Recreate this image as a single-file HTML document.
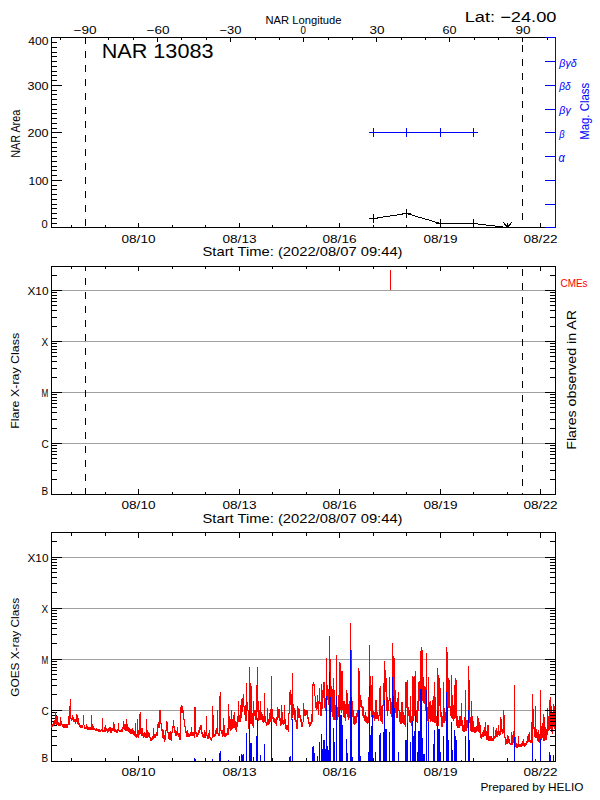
<!DOCTYPE html>
<html><head><meta charset="utf-8"><style>
html,body{margin:0;padding:0;background:#fff;width:600px;height:800px;overflow:hidden}
svg{display:block}
text{font-family:"Liberation Sans",sans-serif}
</style></head><body>
<svg width="600" height="800" viewBox="0 0 600 800">
<rect width="600" height="800" fill="#fff"/>
<g shape-rendering="crispEdges">
<rect x="51" y="37" width="494" height="1" fill="#000"/>
<rect x="51" y="227" width="494" height="1" fill="#000"/>
<rect x="51" y="37" width="1" height="191" fill="#000"/>
<rect x="545" y="37" width="11" height="1" fill="#00f"/>
<rect x="545" y="227" width="11" height="1" fill="#00f"/>
<rect x="555" y="37" width="1" height="191" fill="#00f"/>
<rect x="51" y="227" width="11" height="1" fill="#000"/>
<rect x="51" y="223" width="6" height="1" fill="#000"/>
<rect x="51" y="218" width="6" height="1" fill="#000"/>
<rect x="51" y="213" width="6" height="1" fill="#000"/>
<rect x="51" y="208" width="6" height="1" fill="#000"/>
<rect x="51" y="204" width="6" height="1" fill="#000"/>
<rect x="51" y="199" width="6" height="1" fill="#000"/>
<rect x="51" y="194" width="6" height="1" fill="#000"/>
<rect x="51" y="189" width="6" height="1" fill="#000"/>
<rect x="51" y="185" width="6" height="1" fill="#000"/>
<rect x="51" y="180" width="11" height="1" fill="#000"/>
<rect x="51" y="175" width="6" height="1" fill="#000"/>
<rect x="51" y="170" width="6" height="1" fill="#000"/>
<rect x="51" y="166" width="6" height="1" fill="#000"/>
<rect x="51" y="161" width="6" height="1" fill="#000"/>
<rect x="51" y="156" width="6" height="1" fill="#000"/>
<rect x="51" y="151" width="6" height="1" fill="#000"/>
<rect x="51" y="147" width="6" height="1" fill="#000"/>
<rect x="51" y="142" width="6" height="1" fill="#000"/>
<rect x="51" y="137" width="6" height="1" fill="#000"/>
<rect x="51" y="132" width="11" height="1" fill="#000"/>
<rect x="51" y="128" width="6" height="1" fill="#000"/>
<rect x="51" y="123" width="6" height="1" fill="#000"/>
<rect x="51" y="118" width="6" height="1" fill="#000"/>
<rect x="51" y="113" width="6" height="1" fill="#000"/>
<rect x="51" y="109" width="6" height="1" fill="#000"/>
<rect x="51" y="104" width="6" height="1" fill="#000"/>
<rect x="51" y="99" width="6" height="1" fill="#000"/>
<rect x="51" y="94" width="6" height="1" fill="#000"/>
<rect x="51" y="90" width="6" height="1" fill="#000"/>
<rect x="51" y="85" width="11" height="1" fill="#000"/>
<rect x="51" y="80" width="6" height="1" fill="#000"/>
<rect x="51" y="75" width="6" height="1" fill="#000"/>
<rect x="51" y="71" width="6" height="1" fill="#000"/>
<rect x="51" y="66" width="6" height="1" fill="#000"/>
<rect x="51" y="61" width="6" height="1" fill="#000"/>
<rect x="51" y="56" width="6" height="1" fill="#000"/>
<rect x="51" y="52" width="6" height="1" fill="#000"/>
<rect x="51" y="47" width="6" height="1" fill="#000"/>
<rect x="51" y="42" width="6" height="1" fill="#000"/>
<rect x="51" y="37" width="11" height="1" fill="#000"/>
<rect x="545" y="61" width="11" height="1" fill="#00f"/>
<rect x="545" y="85" width="11" height="1" fill="#00f"/>
<rect x="545" y="109" width="11" height="1" fill="#00f"/>
<rect x="545" y="132" width="11" height="1" fill="#00f"/>
<rect x="545" y="156" width="11" height="1" fill="#00f"/>
<rect x="545" y="180" width="11" height="1" fill="#00f"/>
<rect x="545" y="204" width="11" height="1" fill="#00f"/>
<rect x="71" y="225" width="1" height="2" fill="#000"/>
<rect x="105" y="225" width="1" height="2" fill="#000"/>
<rect x="138" y="223" width="1" height="4" fill="#000"/>
<rect x="172" y="225" width="1" height="2" fill="#000"/>
<rect x="205" y="225" width="1" height="2" fill="#000"/>
<rect x="239" y="223" width="1" height="4" fill="#000"/>
<rect x="272" y="225" width="1" height="2" fill="#000"/>
<rect x="306" y="225" width="1" height="2" fill="#000"/>
<rect x="339" y="223" width="1" height="4" fill="#000"/>
<rect x="373" y="225" width="1" height="2" fill="#000"/>
<rect x="406" y="225" width="1" height="2" fill="#000"/>
<rect x="440" y="223" width="1" height="4" fill="#000"/>
<rect x="473" y="225" width="1" height="2" fill="#000"/>
<rect x="507" y="225" width="1" height="2" fill="#000"/>
<rect x="540" y="223" width="1" height="4" fill="#000"/>
<rect x="60" y="38" width="1" height="2" fill="#000"/>
<rect x="85" y="38" width="1" height="4" fill="#000"/>
<rect x="108" y="38" width="1" height="2" fill="#000"/>
<rect x="133" y="38" width="1" height="2" fill="#000"/>
<rect x="157" y="38" width="1" height="4" fill="#000"/>
<rect x="181" y="38" width="1" height="2" fill="#000"/>
<rect x="206" y="38" width="1" height="2" fill="#000"/>
<rect x="230" y="38" width="1" height="4" fill="#000"/>
<rect x="255" y="38" width="1" height="2" fill="#000"/>
<rect x="279" y="38" width="1" height="2" fill="#000"/>
<rect x="303" y="38" width="1" height="4" fill="#000"/>
<rect x="328" y="38" width="1" height="2" fill="#000"/>
<rect x="352" y="38" width="1" height="2" fill="#000"/>
<rect x="376" y="38" width="1" height="4" fill="#000"/>
<rect x="401" y="38" width="1" height="2" fill="#000"/>
<rect x="425" y="38" width="1" height="2" fill="#000"/>
<rect x="449" y="38" width="1" height="4" fill="#000"/>
<rect x="474" y="38" width="1" height="2" fill="#000"/>
<rect x="498" y="38" width="1" height="2" fill="#000"/>
<rect x="522" y="38" width="1" height="4" fill="#000"/>
<rect x="547" y="38" width="1" height="2" fill="#000"/>
<rect x="85" y="37" width="1" height="7" fill="#000"/>
<rect x="85" y="51" width="1" height="7" fill="#000"/>
<rect x="85" y="65" width="1" height="7" fill="#000"/>
<rect x="85" y="79" width="1" height="7" fill="#000"/>
<rect x="85" y="93" width="1" height="7" fill="#000"/>
<rect x="85" y="107" width="1" height="7" fill="#000"/>
<rect x="85" y="121" width="1" height="7" fill="#000"/>
<rect x="85" y="135" width="1" height="7" fill="#000"/>
<rect x="85" y="149" width="1" height="7" fill="#000"/>
<rect x="85" y="163" width="1" height="7" fill="#000"/>
<rect x="85" y="177" width="1" height="7" fill="#000"/>
<rect x="85" y="191" width="1" height="7" fill="#000"/>
<rect x="85" y="205" width="1" height="7" fill="#000"/>
<rect x="85" y="219" width="1" height="7" fill="#000"/>
<rect x="522" y="37" width="1" height="1" fill="#000"/>
<rect x="522" y="45" width="1" height="7" fill="#000"/>
<rect x="522" y="59" width="1" height="7" fill="#000"/>
<rect x="522" y="73" width="1" height="7" fill="#000"/>
<rect x="522" y="87" width="1" height="7" fill="#000"/>
<rect x="522" y="101" width="1" height="7" fill="#000"/>
<rect x="522" y="115" width="1" height="7" fill="#000"/>
<rect x="522" y="129" width="1" height="7" fill="#000"/>
<rect x="522" y="143" width="1" height="7" fill="#000"/>
<rect x="522" y="157" width="1" height="7" fill="#000"/>
<rect x="522" y="171" width="1" height="7" fill="#000"/>
<rect x="522" y="185" width="1" height="7" fill="#000"/>
<rect x="522" y="199" width="1" height="7" fill="#000"/>
<rect x="522" y="213" width="1" height="7" fill="#000"/>
<rect x="522" y="227" width="1" height="1" fill="#000"/>
<rect x="51" y="266" width="505" height="1" fill="#000"/>
<rect x="51" y="494" width="505" height="1" fill="#000"/>
<rect x="51" y="266" width="1" height="229" fill="#000"/>
<rect x="555" y="266" width="1" height="229" fill="#000"/>
<rect x="51" y="494" width="11" height="1" fill="#000"/>
<rect x="545" y="494" width="11" height="1" fill="#000"/>
<rect x="51" y="479" width="6" height="1" fill="#000"/>
<rect x="550" y="479" width="6" height="1" fill="#000"/>
<rect x="51" y="470" width="6" height="1" fill="#000"/>
<rect x="550" y="470" width="6" height="1" fill="#000"/>
<rect x="51" y="463" width="6" height="1" fill="#000"/>
<rect x="550" y="463" width="6" height="1" fill="#000"/>
<rect x="51" y="458" width="6" height="1" fill="#000"/>
<rect x="550" y="458" width="6" height="1" fill="#000"/>
<rect x="51" y="454" width="6" height="1" fill="#000"/>
<rect x="550" y="454" width="6" height="1" fill="#000"/>
<rect x="51" y="451" width="6" height="1" fill="#000"/>
<rect x="550" y="451" width="6" height="1" fill="#000"/>
<rect x="51" y="448" width="6" height="1" fill="#000"/>
<rect x="550" y="448" width="6" height="1" fill="#000"/>
<rect x="51" y="445" width="6" height="1" fill="#000"/>
<rect x="550" y="445" width="6" height="1" fill="#000"/>
<rect x="51" y="443" width="11" height="1" fill="#000"/>
<rect x="62" y="443" width="483" height="1" fill="#a0a0a0"/>
<rect x="545" y="443" width="11" height="1" fill="#000"/>
<rect x="51" y="428" width="6" height="1" fill="#000"/>
<rect x="550" y="428" width="6" height="1" fill="#000"/>
<rect x="51" y="419" width="6" height="1" fill="#000"/>
<rect x="550" y="419" width="6" height="1" fill="#000"/>
<rect x="51" y="412" width="6" height="1" fill="#000"/>
<rect x="550" y="412" width="6" height="1" fill="#000"/>
<rect x="51" y="407" width="6" height="1" fill="#000"/>
<rect x="550" y="407" width="6" height="1" fill="#000"/>
<rect x="51" y="403" width="6" height="1" fill="#000"/>
<rect x="550" y="403" width="6" height="1" fill="#000"/>
<rect x="51" y="400" width="6" height="1" fill="#000"/>
<rect x="550" y="400" width="6" height="1" fill="#000"/>
<rect x="51" y="397" width="6" height="1" fill="#000"/>
<rect x="550" y="397" width="6" height="1" fill="#000"/>
<rect x="51" y="394" width="6" height="1" fill="#000"/>
<rect x="550" y="394" width="6" height="1" fill="#000"/>
<rect x="51" y="392" width="11" height="1" fill="#000"/>
<rect x="62" y="392" width="483" height="1" fill="#a0a0a0"/>
<rect x="545" y="392" width="11" height="1" fill="#000"/>
<rect x="51" y="377" width="6" height="1" fill="#000"/>
<rect x="550" y="377" width="6" height="1" fill="#000"/>
<rect x="51" y="368" width="6" height="1" fill="#000"/>
<rect x="550" y="368" width="6" height="1" fill="#000"/>
<rect x="51" y="361" width="6" height="1" fill="#000"/>
<rect x="550" y="361" width="6" height="1" fill="#000"/>
<rect x="51" y="356" width="6" height="1" fill="#000"/>
<rect x="550" y="356" width="6" height="1" fill="#000"/>
<rect x="51" y="352" width="6" height="1" fill="#000"/>
<rect x="550" y="352" width="6" height="1" fill="#000"/>
<rect x="51" y="349" width="6" height="1" fill="#000"/>
<rect x="550" y="349" width="6" height="1" fill="#000"/>
<rect x="51" y="346" width="6" height="1" fill="#000"/>
<rect x="550" y="346" width="6" height="1" fill="#000"/>
<rect x="51" y="343" width="6" height="1" fill="#000"/>
<rect x="550" y="343" width="6" height="1" fill="#000"/>
<rect x="51" y="341" width="11" height="1" fill="#000"/>
<rect x="62" y="341" width="483" height="1" fill="#a0a0a0"/>
<rect x="545" y="341" width="11" height="1" fill="#000"/>
<rect x="51" y="326" width="6" height="1" fill="#000"/>
<rect x="550" y="326" width="6" height="1" fill="#000"/>
<rect x="51" y="317" width="6" height="1" fill="#000"/>
<rect x="550" y="317" width="6" height="1" fill="#000"/>
<rect x="51" y="310" width="6" height="1" fill="#000"/>
<rect x="550" y="310" width="6" height="1" fill="#000"/>
<rect x="51" y="305" width="6" height="1" fill="#000"/>
<rect x="550" y="305" width="6" height="1" fill="#000"/>
<rect x="51" y="301" width="6" height="1" fill="#000"/>
<rect x="550" y="301" width="6" height="1" fill="#000"/>
<rect x="51" y="298" width="6" height="1" fill="#000"/>
<rect x="550" y="298" width="6" height="1" fill="#000"/>
<rect x="51" y="295" width="6" height="1" fill="#000"/>
<rect x="550" y="295" width="6" height="1" fill="#000"/>
<rect x="51" y="292" width="6" height="1" fill="#000"/>
<rect x="550" y="292" width="6" height="1" fill="#000"/>
<rect x="51" y="290" width="11" height="1" fill="#000"/>
<rect x="62" y="290" width="483" height="1" fill="#a0a0a0"/>
<rect x="545" y="290" width="11" height="1" fill="#000"/>
<rect x="51" y="275" width="6" height="1" fill="#000"/>
<rect x="550" y="275" width="6" height="1" fill="#000"/>
<rect x="51" y="266" width="6" height="1" fill="#000"/>
<rect x="550" y="266" width="6" height="1" fill="#000"/>
<rect x="71" y="492" width="1" height="2" fill="#000"/>
<rect x="71" y="267" width="1" height="2" fill="#000"/>
<rect x="105" y="492" width="1" height="2" fill="#000"/>
<rect x="105" y="267" width="1" height="2" fill="#000"/>
<rect x="138" y="489" width="1" height="5" fill="#000"/>
<rect x="138" y="267" width="1" height="4" fill="#000"/>
<rect x="172" y="492" width="1" height="2" fill="#000"/>
<rect x="172" y="267" width="1" height="2" fill="#000"/>
<rect x="205" y="492" width="1" height="2" fill="#000"/>
<rect x="205" y="267" width="1" height="2" fill="#000"/>
<rect x="239" y="489" width="1" height="5" fill="#000"/>
<rect x="239" y="267" width="1" height="4" fill="#000"/>
<rect x="272" y="492" width="1" height="2" fill="#000"/>
<rect x="272" y="267" width="1" height="2" fill="#000"/>
<rect x="306" y="492" width="1" height="2" fill="#000"/>
<rect x="306" y="267" width="1" height="2" fill="#000"/>
<rect x="339" y="489" width="1" height="5" fill="#000"/>
<rect x="339" y="267" width="1" height="4" fill="#000"/>
<rect x="373" y="492" width="1" height="2" fill="#000"/>
<rect x="373" y="267" width="1" height="2" fill="#000"/>
<rect x="406" y="492" width="1" height="2" fill="#000"/>
<rect x="406" y="267" width="1" height="2" fill="#000"/>
<rect x="440" y="489" width="1" height="5" fill="#000"/>
<rect x="440" y="267" width="1" height="4" fill="#000"/>
<rect x="473" y="492" width="1" height="2" fill="#000"/>
<rect x="473" y="267" width="1" height="2" fill="#000"/>
<rect x="507" y="492" width="1" height="2" fill="#000"/>
<rect x="507" y="267" width="1" height="2" fill="#000"/>
<rect x="540" y="489" width="1" height="5" fill="#000"/>
<rect x="540" y="267" width="1" height="4" fill="#000"/>
<rect x="85" y="266" width="1" height="5" fill="#000"/>
<rect x="85" y="278" width="1" height="7" fill="#000"/>
<rect x="85" y="292" width="1" height="7" fill="#000"/>
<rect x="85" y="306" width="1" height="7" fill="#000"/>
<rect x="85" y="320" width="1" height="7" fill="#000"/>
<rect x="85" y="334" width="1" height="7" fill="#000"/>
<rect x="85" y="348" width="1" height="7" fill="#000"/>
<rect x="85" y="362" width="1" height="7" fill="#000"/>
<rect x="85" y="376" width="1" height="7" fill="#000"/>
<rect x="85" y="390" width="1" height="7" fill="#000"/>
<rect x="85" y="404" width="1" height="7" fill="#000"/>
<rect x="85" y="418" width="1" height="7" fill="#000"/>
<rect x="85" y="432" width="1" height="7" fill="#000"/>
<rect x="85" y="446" width="1" height="7" fill="#000"/>
<rect x="85" y="460" width="1" height="7" fill="#000"/>
<rect x="85" y="474" width="1" height="7" fill="#000"/>
<rect x="85" y="488" width="1" height="7" fill="#000"/>
<rect x="522" y="269" width="1" height="7" fill="#000"/>
<rect x="522" y="283" width="1" height="7" fill="#000"/>
<rect x="522" y="297" width="1" height="7" fill="#000"/>
<rect x="522" y="311" width="1" height="7" fill="#000"/>
<rect x="522" y="325" width="1" height="7" fill="#000"/>
<rect x="522" y="339" width="1" height="7" fill="#000"/>
<rect x="522" y="353" width="1" height="7" fill="#000"/>
<rect x="522" y="367" width="1" height="7" fill="#000"/>
<rect x="522" y="381" width="1" height="7" fill="#000"/>
<rect x="522" y="395" width="1" height="7" fill="#000"/>
<rect x="522" y="409" width="1" height="7" fill="#000"/>
<rect x="522" y="423" width="1" height="7" fill="#000"/>
<rect x="522" y="437" width="1" height="7" fill="#000"/>
<rect x="522" y="451" width="1" height="7" fill="#000"/>
<rect x="522" y="465" width="1" height="7" fill="#000"/>
<rect x="522" y="479" width="1" height="7" fill="#000"/>
<rect x="522" y="493" width="1" height="2" fill="#000"/>
<rect x="390" y="270" width="1" height="20" fill="#f00"/>
<rect x="51" y="532" width="505" height="1" fill="#000"/>
<rect x="51" y="761" width="505" height="1" fill="#000"/>
<rect x="51" y="532" width="1" height="230" fill="#000"/>
<rect x="51" y="761" width="11" height="1" fill="#000"/>
<rect x="51" y="745" width="6" height="1" fill="#000"/>
<rect x="51" y="736" width="6" height="1" fill="#000"/>
<rect x="51" y="730" width="6" height="1" fill="#000"/>
<rect x="51" y="725" width="6" height="1" fill="#000"/>
<rect x="51" y="721" width="6" height="1" fill="#000"/>
<rect x="51" y="718" width="6" height="1" fill="#000"/>
<rect x="51" y="715" width="6" height="1" fill="#000"/>
<rect x="51" y="712" width="6" height="1" fill="#000"/>
<rect x="51" y="710" width="11" height="1" fill="#000"/>
<rect x="62" y="710" width="483" height="1" fill="#a0a0a0"/>
<rect x="51" y="694" width="6" height="1" fill="#000"/>
<rect x="51" y="685" width="6" height="1" fill="#000"/>
<rect x="51" y="679" width="6" height="1" fill="#000"/>
<rect x="51" y="674" width="6" height="1" fill="#000"/>
<rect x="51" y="670" width="6" height="1" fill="#000"/>
<rect x="51" y="667" width="6" height="1" fill="#000"/>
<rect x="51" y="664" width="6" height="1" fill="#000"/>
<rect x="51" y="661" width="6" height="1" fill="#000"/>
<rect x="51" y="659" width="11" height="1" fill="#000"/>
<rect x="62" y="659" width="483" height="1" fill="#a0a0a0"/>
<rect x="51" y="643" width="6" height="1" fill="#000"/>
<rect x="51" y="634" width="6" height="1" fill="#000"/>
<rect x="51" y="628" width="6" height="1" fill="#000"/>
<rect x="51" y="623" width="6" height="1" fill="#000"/>
<rect x="51" y="619" width="6" height="1" fill="#000"/>
<rect x="51" y="616" width="6" height="1" fill="#000"/>
<rect x="51" y="613" width="6" height="1" fill="#000"/>
<rect x="51" y="610" width="6" height="1" fill="#000"/>
<rect x="51" y="608" width="11" height="1" fill="#000"/>
<rect x="62" y="608" width="483" height="1" fill="#a0a0a0"/>
<rect x="51" y="592" width="6" height="1" fill="#000"/>
<rect x="51" y="583" width="6" height="1" fill="#000"/>
<rect x="51" y="577" width="6" height="1" fill="#000"/>
<rect x="51" y="572" width="6" height="1" fill="#000"/>
<rect x="51" y="568" width="6" height="1" fill="#000"/>
<rect x="51" y="565" width="6" height="1" fill="#000"/>
<rect x="51" y="562" width="6" height="1" fill="#000"/>
<rect x="51" y="559" width="6" height="1" fill="#000"/>
<rect x="51" y="557" width="11" height="1" fill="#000"/>
<rect x="62" y="557" width="483" height="1" fill="#a0a0a0"/>
<rect x="51" y="541" width="6" height="1" fill="#000"/>
<rect x="51" y="532" width="6" height="1" fill="#000"/>
<rect x="71" y="758" width="1" height="3" fill="#000"/>
<rect x="71" y="533" width="1" height="3" fill="#000"/>
<rect x="105" y="758" width="1" height="3" fill="#000"/>
<rect x="105" y="533" width="1" height="3" fill="#000"/>
<rect x="138" y="756" width="1" height="5" fill="#000"/>
<rect x="138" y="533" width="1" height="5" fill="#000"/>
<rect x="172" y="758" width="1" height="3" fill="#000"/>
<rect x="172" y="533" width="1" height="3" fill="#000"/>
<rect x="205" y="758" width="1" height="3" fill="#000"/>
<rect x="205" y="533" width="1" height="3" fill="#000"/>
<rect x="239" y="756" width="1" height="5" fill="#000"/>
<rect x="239" y="533" width="1" height="5" fill="#000"/>
<rect x="272" y="758" width="1" height="3" fill="#000"/>
<rect x="272" y="533" width="1" height="3" fill="#000"/>
<rect x="306" y="758" width="1" height="3" fill="#000"/>
<rect x="306" y="533" width="1" height="3" fill="#000"/>
<rect x="339" y="756" width="1" height="5" fill="#000"/>
<rect x="339" y="533" width="1" height="5" fill="#000"/>
<rect x="373" y="758" width="1" height="3" fill="#000"/>
<rect x="373" y="533" width="1" height="3" fill="#000"/>
<rect x="406" y="758" width="1" height="3" fill="#000"/>
<rect x="406" y="533" width="1" height="3" fill="#000"/>
<rect x="440" y="756" width="1" height="5" fill="#000"/>
<rect x="440" y="533" width="1" height="5" fill="#000"/>
<rect x="473" y="758" width="1" height="3" fill="#000"/>
<rect x="473" y="533" width="1" height="3" fill="#000"/>
<rect x="507" y="758" width="1" height="3" fill="#000"/>
<rect x="507" y="533" width="1" height="3" fill="#000"/>
<rect x="540" y="756" width="1" height="5" fill="#000"/>
<rect x="540" y="533" width="1" height="5" fill="#000"/>
<rect x="51" y="725" width="1" height="3" fill="#f00"/>
<rect x="52" y="724" width="1" height="3" fill="#f00"/>
<rect x="53" y="722" width="1" height="4" fill="#f00"/>
<rect x="54" y="720" width="1" height="5" fill="#f00"/>
<rect x="55" y="712" width="1" height="12" fill="#f00"/>
<rect x="56" y="716" width="1" height="9" fill="#f00"/>
<rect x="57" y="716" width="1" height="9" fill="#f00"/>
<rect x="58" y="722" width="1" height="4" fill="#f00"/>
<rect x="59" y="723" width="1" height="3" fill="#f00"/>
<rect x="60" y="717" width="1" height="9" fill="#f00"/>
<rect x="61" y="721" width="1" height="4" fill="#f00"/>
<rect x="62" y="724" width="1" height="3" fill="#f00"/>
<rect x="63" y="724" width="1" height="4" fill="#f00"/>
<rect x="64" y="724" width="1" height="4" fill="#f00"/>
<rect x="65" y="724" width="1" height="4" fill="#f00"/>
<rect x="66" y="724" width="1" height="4" fill="#f00"/>
<rect x="67" y="724" width="1" height="4" fill="#f00"/>
<rect x="68" y="716" width="1" height="9" fill="#f00"/>
<rect x="69" y="706" width="1" height="19" fill="#f00"/>
<rect x="70" y="699" width="1" height="20" fill="#f00"/>
<rect x="71" y="718" width="1" height="3" fill="#f00"/>
<rect x="72" y="715" width="1" height="5" fill="#f00"/>
<rect x="73" y="717" width="1" height="5" fill="#f00"/>
<rect x="74" y="719" width="1" height="3" fill="#f00"/>
<rect x="75" y="719" width="1" height="5" fill="#f00"/>
<rect x="76" y="714" width="1" height="8" fill="#f00"/>
<rect x="77" y="715" width="1" height="9" fill="#f00"/>
<rect x="78" y="718" width="1" height="7" fill="#f00"/>
<rect x="79" y="723" width="1" height="4" fill="#f00"/>
<rect x="80" y="725" width="1" height="3" fill="#f00"/>
<rect x="81" y="725" width="1" height="3" fill="#f00"/>
<rect x="82" y="725" width="1" height="3" fill="#f00"/>
<rect x="83" y="715" width="1" height="10" fill="#f00"/>
<rect x="84" y="725" width="1" height="4" fill="#f00"/>
<rect x="85" y="727" width="1" height="2" fill="#f00"/>
<rect x="86" y="724" width="1" height="5" fill="#f00"/>
<rect x="87" y="726" width="1" height="4" fill="#f00"/>
<rect x="88" y="727" width="1" height="3" fill="#f00"/>
<rect x="89" y="727" width="1" height="3" fill="#f00"/>
<rect x="90" y="727" width="1" height="3" fill="#f00"/>
<rect x="91" y="715" width="1" height="15" fill="#f00"/>
<rect x="92" y="724" width="1" height="6" fill="#f00"/>
<rect x="93" y="726" width="1" height="4" fill="#f00"/>
<rect x="94" y="728" width="1" height="2" fill="#f00"/>
<rect x="95" y="729" width="1" height="2" fill="#f00"/>
<rect x="96" y="728" width="1" height="3" fill="#f00"/>
<rect x="97" y="729" width="1" height="2" fill="#f00"/>
<rect x="98" y="729" width="1" height="3" fill="#f00"/>
<rect x="99" y="729" width="1" height="3" fill="#f00"/>
<rect x="100" y="730" width="1" height="2" fill="#f00"/>
<rect x="101" y="729" width="1" height="2" fill="#f00"/>
<rect x="102" y="718" width="1" height="14" fill="#f00"/>
<rect x="103" y="730" width="1" height="2" fill="#f00"/>
<rect x="104" y="727" width="1" height="5" fill="#f00"/>
<rect x="105" y="725" width="1" height="7" fill="#f00"/>
<rect x="106" y="728" width="1" height="3" fill="#f00"/>
<rect x="107" y="729" width="1" height="4" fill="#f00"/>
<rect x="108" y="728" width="1" height="4" fill="#f00"/>
<rect x="109" y="727" width="1" height="4" fill="#f00"/>
<rect x="110" y="727" width="1" height="6" fill="#f00"/>
<rect x="111" y="728" width="1" height="5" fill="#f00"/>
<rect x="112" y="728" width="1" height="3" fill="#f00"/>
<rect x="113" y="722" width="1" height="9" fill="#f00"/>
<rect x="114" y="724" width="1" height="8" fill="#f00"/>
<rect x="115" y="729" width="1" height="3" fill="#f00"/>
<rect x="116" y="730" width="1" height="3" fill="#f00"/>
<rect x="117" y="729" width="1" height="4" fill="#f00"/>
<rect x="118" y="723" width="1" height="8" fill="#f00"/>
<rect x="119" y="730" width="1" height="2" fill="#f00"/>
<rect x="120" y="730" width="1" height="2" fill="#f00"/>
<rect x="121" y="729" width="1" height="3" fill="#f00"/>
<rect x="122" y="727" width="1" height="5" fill="#f00"/>
<rect x="123" y="721" width="1" height="8" fill="#f00"/>
<rect x="124" y="724" width="1" height="6" fill="#f00"/>
<rect x="125" y="724" width="1" height="7" fill="#f00"/>
<rect x="126" y="719" width="1" height="12" fill="#f00"/>
<rect x="127" y="724" width="1" height="7" fill="#f00"/>
<rect x="128" y="727" width="1" height="5" fill="#f00"/>
<rect x="129" y="728" width="1" height="5" fill="#f00"/>
<rect x="130" y="729" width="1" height="5" fill="#f00"/>
<rect x="131" y="729" width="1" height="5" fill="#f00"/>
<rect x="132" y="728" width="1" height="6" fill="#f00"/>
<rect x="133" y="730" width="1" height="5" fill="#f00"/>
<rect x="134" y="731" width="1" height="5" fill="#f00"/>
<rect x="135" y="723" width="1" height="14" fill="#f00"/>
<rect x="136" y="734" width="1" height="4" fill="#f00"/>
<rect x="137" y="719" width="1" height="18" fill="#f00"/>
<rect x="138" y="730" width="1" height="8" fill="#f00"/>
<rect x="139" y="714" width="1" height="21" fill="#f00"/>
<rect x="140" y="712" width="1" height="22" fill="#f00"/>
<rect x="141" y="728" width="1" height="8" fill="#f00"/>
<rect x="142" y="728" width="1" height="8" fill="#f00"/>
<rect x="143" y="733" width="1" height="5" fill="#f00"/>
<rect x="144" y="732" width="1" height="5" fill="#f00"/>
<rect x="145" y="733" width="1" height="5" fill="#f00"/>
<rect x="146" y="719" width="1" height="19" fill="#f00"/>
<rect x="147" y="730" width="1" height="8" fill="#f00"/>
<rect x="148" y="732" width="1" height="5" fill="#f00"/>
<rect x="149" y="733" width="1" height="5" fill="#f00"/>
<rect x="150" y="737" width="1" height="4" fill="#f00"/>
<rect x="151" y="738" width="1" height="3" fill="#f00"/>
<rect x="152" y="736" width="1" height="4" fill="#f00"/>
<rect x="153" y="728" width="1" height="11" fill="#f00"/>
<rect x="154" y="734" width="1" height="4" fill="#f00"/>
<rect x="155" y="734" width="1" height="4" fill="#f00"/>
<rect x="156" y="732" width="1" height="4" fill="#f00"/>
<rect x="157" y="724" width="1" height="12" fill="#f00"/>
<rect x="158" y="722" width="1" height="6" fill="#f00"/>
<rect x="159" y="710" width="1" height="18" fill="#f00"/>
<rect x="160" y="710" width="1" height="14" fill="#f00"/>
<rect x="161" y="723" width="1" height="8" fill="#f00"/>
<rect x="162" y="729" width="1" height="9" fill="#f00"/>
<rect x="163" y="730" width="1" height="9" fill="#f00"/>
<rect x="164" y="735" width="1" height="7" fill="#f00"/>
<rect x="165" y="730" width="1" height="10" fill="#f00"/>
<rect x="166" y="721" width="1" height="10" fill="#f00"/>
<rect x="167" y="722" width="1" height="11" fill="#f00"/>
<rect x="168" y="732" width="1" height="7" fill="#f00"/>
<rect x="169" y="732" width="1" height="8" fill="#f00"/>
<rect x="170" y="731" width="1" height="9" fill="#f00"/>
<rect x="171" y="732" width="1" height="9" fill="#f00"/>
<rect x="172" y="726" width="1" height="7" fill="#f00"/>
<rect x="173" y="720" width="1" height="8" fill="#f00"/>
<rect x="174" y="726" width="1" height="7" fill="#f00"/>
<rect x="175" y="730" width="1" height="6" fill="#f00"/>
<rect x="176" y="731" width="1" height="5" fill="#f00"/>
<rect x="177" y="727" width="1" height="8" fill="#f00"/>
<rect x="178" y="733" width="1" height="4" fill="#f00"/>
<rect x="179" y="733" width="1" height="7" fill="#f00"/>
<rect x="180" y="707" width="1" height="33" fill="#f00"/>
<rect x="181" y="705" width="1" height="8" fill="#f00"/>
<rect x="182" y="706" width="1" height="7" fill="#f00"/>
<rect x="183" y="710" width="1" height="10" fill="#f00"/>
<rect x="184" y="719" width="1" height="8" fill="#f00"/>
<rect x="185" y="726" width="1" height="7" fill="#f00"/>
<rect x="186" y="731" width="1" height="6" fill="#f00"/>
<rect x="187" y="730" width="1" height="7" fill="#f00"/>
<rect x="188" y="733" width="1" height="4" fill="#f00"/>
<rect x="189" y="734" width="1" height="3" fill="#f00"/>
<rect x="190" y="732" width="1" height="4" fill="#f00"/>
<rect x="191" y="727" width="1" height="9" fill="#f00"/>
<rect x="192" y="732" width="1" height="4" fill="#f00"/>
<rect x="193" y="732" width="1" height="4" fill="#f00"/>
<rect x="194" y="707" width="1" height="31" fill="#f00"/>
<rect x="195" y="707" width="1" height="27" fill="#f00"/>
<rect x="196" y="732" width="1" height="5" fill="#f00"/>
<rect x="197" y="733" width="1" height="4" fill="#f00"/>
<rect x="198" y="730" width="1" height="5" fill="#f00"/>
<rect x="199" y="727" width="1" height="6" fill="#f00"/>
<rect x="200" y="725" width="1" height="5" fill="#f00"/>
<rect x="201" y="725" width="1" height="9" fill="#f00"/>
<rect x="202" y="732" width="1" height="5" fill="#f00"/>
<rect x="203" y="734" width="1" height="4" fill="#f00"/>
<rect x="204" y="730" width="1" height="8" fill="#f00"/>
<rect x="205" y="732" width="1" height="6" fill="#f00"/>
<rect x="206" y="716" width="1" height="20" fill="#f00"/>
<rect x="207" y="735" width="1" height="4" fill="#f00"/>
<rect x="208" y="733" width="1" height="6" fill="#f00"/>
<rect x="209" y="730" width="1" height="8" fill="#f00"/>
<rect x="210" y="737" width="1" height="3" fill="#f00"/>
<rect x="211" y="738" width="1" height="3" fill="#f00"/>
<rect x="212" y="706" width="1" height="32" fill="#f00"/>
<rect x="213" y="715" width="1" height="22" fill="#f00"/>
<rect x="214" y="734" width="1" height="3" fill="#f00"/>
<rect x="215" y="730" width="1" height="6" fill="#f00"/>
<rect x="216" y="728" width="1" height="6" fill="#f00"/>
<rect x="217" y="710" width="1" height="24" fill="#f00"/>
<rect x="218" y="733" width="1" height="3" fill="#f00"/>
<rect x="219" y="696" width="1" height="40" fill="#f00"/>
<rect x="220" y="692" width="1" height="39" fill="#f00"/>
<rect x="221" y="730" width="1" height="4" fill="#f00"/>
<rect x="222" y="730" width="1" height="7" fill="#f00"/>
<rect x="223" y="718" width="1" height="18" fill="#f00"/>
<rect x="224" y="725" width="1" height="12" fill="#f00"/>
<rect x="225" y="733" width="1" height="4" fill="#f00"/>
<rect x="226" y="733" width="1" height="3" fill="#f00"/>
<rect x="227" y="728" width="1" height="7" fill="#f00"/>
<rect x="228" y="704" width="1" height="31" fill="#f00"/>
<rect x="229" y="716" width="1" height="13" fill="#f00"/>
<rect x="230" y="719" width="1" height="12" fill="#f00"/>
<rect x="231" y="710" width="1" height="20" fill="#f00"/>
<rect x="232" y="719" width="1" height="10" fill="#f00"/>
<rect x="233" y="715" width="1" height="13" fill="#f00"/>
<rect x="234" y="712" width="1" height="16" fill="#f00"/>
<rect x="235" y="721" width="1" height="9" fill="#f00"/>
<rect x="236" y="722" width="1" height="10" fill="#f00"/>
<rect x="237" y="716" width="1" height="11" fill="#f00"/>
<rect x="238" y="701" width="1" height="21" fill="#f00"/>
<rect x="239" y="715" width="1" height="7" fill="#f00"/>
<rect x="240" y="705" width="1" height="17" fill="#f00"/>
<rect x="241" y="699" width="1" height="19" fill="#f00"/>
<rect x="242" y="698" width="1" height="14" fill="#f00"/>
<rect x="243" y="694" width="1" height="13" fill="#f00"/>
<rect x="244" y="706" width="1" height="9" fill="#f00"/>
<rect x="245" y="705" width="1" height="16" fill="#f00"/>
<rect x="246" y="683" width="1" height="38" fill="#f00"/>
<rect x="247" y="702" width="1" height="9" fill="#f00"/>
<rect x="248" y="710" width="1" height="19" fill="#f00"/>
<rect x="249" y="667" width="1" height="57" fill="#f00"/>
<rect x="250" y="683" width="1" height="41" fill="#f00"/>
<rect x="251" y="686" width="1" height="38" fill="#f00"/>
<rect x="252" y="713" width="1" height="13" fill="#f00"/>
<rect x="253" y="701" width="1" height="27" fill="#f00"/>
<rect x="254" y="710" width="1" height="6" fill="#f00"/>
<rect x="255" y="710" width="1" height="10" fill="#f00"/>
<rect x="256" y="685" width="1" height="35" fill="#f00"/>
<rect x="257" y="667" width="1" height="45" fill="#f00"/>
<rect x="258" y="701" width="1" height="20" fill="#f00"/>
<rect x="259" y="710" width="1" height="10" fill="#f00"/>
<rect x="260" y="701" width="1" height="19" fill="#f00"/>
<rect x="261" y="712" width="1" height="8" fill="#f00"/>
<rect x="262" y="714" width="1" height="8" fill="#f00"/>
<rect x="263" y="716" width="1" height="7" fill="#f00"/>
<rect x="264" y="693" width="1" height="29" fill="#f00"/>
<rect x="265" y="716" width="1" height="7" fill="#f00"/>
<rect x="266" y="722" width="1" height="4" fill="#f00"/>
<rect x="267" y="708" width="1" height="17" fill="#f00"/>
<rect x="268" y="719" width="1" height="6" fill="#f00"/>
<rect x="269" y="713" width="1" height="11" fill="#f00"/>
<rect x="270" y="709" width="1" height="13" fill="#f00"/>
<rect x="271" y="676" width="1" height="46" fill="#f00"/>
<rect x="272" y="709" width="1" height="10" fill="#f00"/>
<rect x="273" y="717" width="1" height="5" fill="#f00"/>
<rect x="274" y="718" width="1" height="5" fill="#f00"/>
<rect x="275" y="719" width="1" height="5" fill="#f00"/>
<rect x="276" y="717" width="1" height="9" fill="#f00"/>
<rect x="277" y="707" width="1" height="13" fill="#f00"/>
<rect x="278" y="709" width="1" height="9" fill="#f00"/>
<rect x="279" y="709" width="1" height="12" fill="#f00"/>
<rect x="280" y="718" width="1" height="8" fill="#f00"/>
<rect x="281" y="705" width="1" height="20" fill="#f00"/>
<rect x="282" y="712" width="1" height="12" fill="#f00"/>
<rect x="283" y="720" width="1" height="5" fill="#f00"/>
<rect x="284" y="705" width="1" height="19" fill="#f00"/>
<rect x="285" y="719" width="1" height="10" fill="#f00"/>
<rect x="286" y="725" width="1" height="5" fill="#f00"/>
<rect x="287" y="725" width="1" height="5" fill="#f00"/>
<rect x="288" y="713" width="1" height="19" fill="#f00"/>
<rect x="289" y="692" width="1" height="22" fill="#f00"/>
<rect x="290" y="690" width="1" height="15" fill="#f00"/>
<rect x="291" y="694" width="1" height="26" fill="#f00"/>
<rect x="292" y="673" width="1" height="45" fill="#f00"/>
<rect x="293" y="704" width="1" height="11" fill="#f00"/>
<rect x="294" y="708" width="1" height="12" fill="#f00"/>
<rect x="295" y="710" width="1" height="12" fill="#f00"/>
<rect x="296" y="720" width="1" height="9" fill="#f00"/>
<rect x="297" y="706" width="1" height="23" fill="#f00"/>
<rect x="298" y="708" width="1" height="10" fill="#f00"/>
<rect x="299" y="709" width="1" height="9" fill="#f00"/>
<rect x="300" y="715" width="1" height="7" fill="#f00"/>
<rect x="301" y="719" width="1" height="8" fill="#f00"/>
<rect x="302" y="722" width="1" height="5" fill="#f00"/>
<rect x="303" y="703" width="1" height="19" fill="#f00"/>
<rect x="304" y="709" width="1" height="7" fill="#f00"/>
<rect x="305" y="710" width="1" height="6" fill="#f00"/>
<rect x="306" y="710" width="1" height="5" fill="#f00"/>
<rect x="307" y="710" width="1" height="9" fill="#f00"/>
<rect x="308" y="717" width="1" height="7" fill="#f00"/>
<rect x="309" y="722" width="1" height="5" fill="#f00"/>
<rect x="310" y="722" width="1" height="4" fill="#f00"/>
<rect x="311" y="714" width="1" height="10" fill="#f00"/>
<rect x="312" y="684" width="1" height="38" fill="#f00"/>
<rect x="313" y="682" width="1" height="4" fill="#f00"/>
<rect x="314" y="684" width="1" height="12" fill="#f00"/>
<rect x="315" y="696" width="1" height="12" fill="#f00"/>
<rect x="316" y="702" width="1" height="8" fill="#f00"/>
<rect x="317" y="695" width="1" height="14" fill="#f00"/>
<rect x="318" y="701" width="1" height="14" fill="#f00"/>
<rect x="319" y="688" width="1" height="16" fill="#f00"/>
<rect x="320" y="702" width="1" height="14" fill="#f00"/>
<rect x="321" y="684" width="1" height="32" fill="#f00"/>
<rect x="322" y="690" width="1" height="19" fill="#f00"/>
<rect x="323" y="682" width="1" height="16" fill="#f00"/>
<rect x="324" y="682" width="1" height="26" fill="#f00"/>
<rect x="325" y="698" width="1" height="13" fill="#f00"/>
<rect x="326" y="658" width="1" height="53" fill="#f00"/>
<rect x="327" y="685" width="1" height="15" fill="#f00"/>
<rect x="328" y="689" width="1" height="16" fill="#f00"/>
<rect x="329" y="636" width="1" height="37" fill="#f00"/>
<rect x="330" y="659" width="1" height="39" fill="#f00"/>
<rect x="331" y="686" width="1" height="26" fill="#f00"/>
<rect x="332" y="689" width="1" height="28" fill="#f00"/>
<rect x="333" y="678" width="1" height="42" fill="#f00"/>
<rect x="334" y="690" width="1" height="30" fill="#f00"/>
<rect x="335" y="705" width="1" height="15" fill="#f00"/>
<rect x="336" y="655" width="1" height="65" fill="#f00"/>
<rect x="337" y="707" width="1" height="13" fill="#f00"/>
<rect x="338" y="695" width="1" height="22" fill="#f00"/>
<rect x="339" y="662" width="1" height="51" fill="#f00"/>
<rect x="340" y="663" width="1" height="47" fill="#f00"/>
<rect x="341" y="671" width="1" height="42" fill="#f00"/>
<rect x="342" y="671" width="1" height="39" fill="#f00"/>
<rect x="343" y="701" width="1" height="16" fill="#f00"/>
<rect x="344" y="701" width="1" height="17" fill="#f00"/>
<rect x="345" y="704" width="1" height="17" fill="#f00"/>
<rect x="346" y="690" width="1" height="24" fill="#f00"/>
<rect x="347" y="693" width="1" height="24" fill="#f00"/>
<rect x="348" y="704" width="1" height="16" fill="#f00"/>
<rect x="349" y="701" width="1" height="17" fill="#f00"/>
<rect x="350" y="623" width="1" height="38" fill="#f00"/>
<rect x="351" y="650" width="1" height="55" fill="#f00"/>
<rect x="352" y="701" width="1" height="16" fill="#f00"/>
<rect x="353" y="710" width="1" height="14" fill="#f00"/>
<rect x="354" y="716" width="1" height="9" fill="#f00"/>
<rect x="355" y="716" width="1" height="8" fill="#f00"/>
<rect x="356" y="713" width="1" height="10" fill="#f00"/>
<rect x="357" y="710" width="1" height="7" fill="#f00"/>
<rect x="358" y="668" width="1" height="43" fill="#f00"/>
<rect x="359" y="671" width="1" height="40" fill="#f00"/>
<rect x="360" y="695" width="1" height="12" fill="#f00"/>
<rect x="361" y="700" width="1" height="8" fill="#f00"/>
<rect x="362" y="706" width="1" height="10" fill="#f00"/>
<rect x="363" y="707" width="1" height="11" fill="#f00"/>
<rect x="364" y="715" width="1" height="6" fill="#f00"/>
<rect x="365" y="712" width="1" height="10" fill="#f00"/>
<rect x="366" y="716" width="1" height="7" fill="#f00"/>
<rect x="367" y="717" width="1" height="7" fill="#f00"/>
<rect x="368" y="697" width="1" height="26" fill="#f00"/>
<rect x="369" y="645" width="1" height="42" fill="#f00"/>
<rect x="370" y="676" width="1" height="35" fill="#f00"/>
<rect x="371" y="685" width="1" height="32" fill="#f00"/>
<rect x="372" y="676" width="1" height="41" fill="#f00"/>
<rect x="373" y="711" width="1" height="7" fill="#f00"/>
<rect x="374" y="712" width="1" height="9" fill="#f00"/>
<rect x="375" y="700" width="1" height="19" fill="#f00"/>
<rect x="376" y="700" width="1" height="19" fill="#f00"/>
<rect x="377" y="712" width="1" height="7" fill="#f00"/>
<rect x="378" y="715" width="1" height="6" fill="#f00"/>
<rect x="379" y="688" width="1" height="28" fill="#f00"/>
<rect x="380" y="686" width="1" height="35" fill="#f00"/>
<rect x="381" y="706" width="1" height="16" fill="#f00"/>
<rect x="382" y="705" width="1" height="19" fill="#f00"/>
<rect x="383" y="683" width="1" height="23" fill="#f00"/>
<rect x="384" y="661" width="1" height="40" fill="#f00"/>
<rect x="385" y="670" width="1" height="22" fill="#f00"/>
<rect x="386" y="678" width="1" height="33" fill="#f00"/>
<rect x="387" y="697" width="1" height="19" fill="#f00"/>
<rect x="388" y="700" width="1" height="11" fill="#f00"/>
<rect x="389" y="677" width="1" height="24" fill="#f00"/>
<rect x="390" y="698" width="1" height="16" fill="#f00"/>
<rect x="391" y="702" width="1" height="15" fill="#f00"/>
<rect x="392" y="643" width="1" height="35" fill="#f00"/>
<rect x="393" y="656" width="1" height="47" fill="#f00"/>
<rect x="394" y="658" width="1" height="55" fill="#f00"/>
<rect x="395" y="690" width="1" height="23" fill="#f00"/>
<rect x="396" y="702" width="1" height="16" fill="#f00"/>
<rect x="397" y="698" width="1" height="20" fill="#f00"/>
<rect x="398" y="692" width="1" height="19" fill="#f00"/>
<rect x="399" y="710" width="1" height="12" fill="#f00"/>
<rect x="400" y="712" width="1" height="12" fill="#f00"/>
<rect x="401" y="702" width="1" height="22" fill="#f00"/>
<rect x="402" y="702" width="1" height="21" fill="#f00"/>
<rect x="403" y="712" width="1" height="12" fill="#f00"/>
<rect x="404" y="715" width="1" height="10" fill="#f00"/>
<rect x="405" y="682" width="1" height="45" fill="#f00"/>
<rect x="406" y="682" width="1" height="26" fill="#f00"/>
<rect x="407" y="680" width="1" height="43" fill="#f00"/>
<rect x="408" y="707" width="1" height="9" fill="#f00"/>
<rect x="409" y="710" width="1" height="12" fill="#f00"/>
<rect x="410" y="696" width="1" height="27" fill="#f00"/>
<rect x="411" y="716" width="1" height="10" fill="#f00"/>
<rect x="412" y="676" width="1" height="47" fill="#f00"/>
<rect x="413" y="677" width="1" height="44" fill="#f00"/>
<rect x="414" y="676" width="1" height="40" fill="#f00"/>
<rect x="415" y="671" width="1" height="41" fill="#f00"/>
<rect x="416" y="710" width="1" height="12" fill="#f00"/>
<rect x="417" y="701" width="1" height="22" fill="#f00"/>
<rect x="418" y="682" width="1" height="29" fill="#f00"/>
<rect x="419" y="681" width="1" height="20" fill="#f00"/>
<rect x="420" y="651" width="1" height="38" fill="#f00"/>
<rect x="421" y="647" width="1" height="42" fill="#f00"/>
<rect x="422" y="650" width="1" height="51" fill="#f00"/>
<rect x="423" y="677" width="1" height="26" fill="#f00"/>
<rect x="424" y="686" width="1" height="18" fill="#f00"/>
<rect x="425" y="687" width="1" height="24" fill="#f00"/>
<rect x="426" y="653" width="1" height="38" fill="#f00"/>
<rect x="427" y="707" width="1" height="14" fill="#f00"/>
<rect x="428" y="677" width="1" height="45" fill="#f00"/>
<rect x="429" y="702" width="1" height="17" fill="#f00"/>
<rect x="430" y="701" width="1" height="21" fill="#f00"/>
<rect x="431" y="705" width="1" height="16" fill="#f00"/>
<rect x="432" y="700" width="1" height="22" fill="#f00"/>
<rect x="433" y="696" width="1" height="26" fill="#f00"/>
<rect x="434" y="682" width="1" height="41" fill="#f00"/>
<rect x="435" y="697" width="1" height="26" fill="#f00"/>
<rect x="436" y="716" width="1" height="10" fill="#f00"/>
<rect x="437" y="668" width="1" height="44" fill="#f00"/>
<rect x="438" y="675" width="1" height="51" fill="#f00"/>
<rect x="439" y="678" width="1" height="28" fill="#f00"/>
<rect x="440" y="688" width="1" height="29" fill="#f00"/>
<rect x="441" y="712" width="1" height="15" fill="#f00"/>
<rect x="442" y="716" width="1" height="11" fill="#f00"/>
<rect x="443" y="682" width="1" height="41" fill="#f00"/>
<rect x="444" y="708" width="1" height="15" fill="#f00"/>
<rect x="445" y="712" width="1" height="9" fill="#f00"/>
<rect x="446" y="647" width="1" height="46" fill="#f00"/>
<rect x="447" y="652" width="1" height="55" fill="#f00"/>
<rect x="448" y="678" width="1" height="30" fill="#f00"/>
<rect x="449" y="680" width="1" height="28" fill="#f00"/>
<rect x="450" y="706" width="1" height="10" fill="#f00"/>
<rect x="451" y="675" width="1" height="43" fill="#f00"/>
<rect x="452" y="695" width="1" height="24" fill="#f00"/>
<rect x="453" y="705" width="1" height="16" fill="#f00"/>
<rect x="454" y="685" width="1" height="34" fill="#f00"/>
<rect x="455" y="678" width="1" height="40" fill="#f00"/>
<rect x="456" y="680" width="1" height="46" fill="#f00"/>
<rect x="457" y="716" width="1" height="12" fill="#f00"/>
<rect x="458" y="720" width="1" height="8" fill="#f00"/>
<rect x="459" y="716" width="1" height="12" fill="#f00"/>
<rect x="460" y="716" width="1" height="10" fill="#f00"/>
<rect x="461" y="703" width="1" height="23" fill="#f00"/>
<rect x="462" y="720" width="1" height="11" fill="#f00"/>
<rect x="463" y="725" width="1" height="7" fill="#f00"/>
<rect x="464" y="717" width="1" height="15" fill="#f00"/>
<rect x="465" y="690" width="1" height="41" fill="#f00"/>
<rect x="466" y="720" width="1" height="11" fill="#f00"/>
<rect x="467" y="720" width="1" height="8" fill="#f00"/>
<rect x="468" y="666" width="1" height="46" fill="#f00"/>
<rect x="469" y="680" width="1" height="43" fill="#f00"/>
<rect x="470" y="717" width="1" height="14" fill="#f00"/>
<rect x="471" y="701" width="1" height="31" fill="#f00"/>
<rect x="472" y="716" width="1" height="16" fill="#f00"/>
<rect x="473" y="721" width="1" height="11" fill="#f00"/>
<rect x="474" y="727" width="1" height="6" fill="#f00"/>
<rect x="475" y="727" width="1" height="6" fill="#f00"/>
<rect x="476" y="726" width="1" height="6" fill="#f00"/>
<rect x="477" y="716" width="1" height="15" fill="#f00"/>
<rect x="478" y="718" width="1" height="14" fill="#f00"/>
<rect x="479" y="722" width="1" height="11" fill="#f00"/>
<rect x="480" y="725" width="1" height="13" fill="#f00"/>
<rect x="481" y="734" width="1" height="5" fill="#f00"/>
<rect x="482" y="732" width="1" height="5" fill="#f00"/>
<rect x="483" y="730" width="1" height="7" fill="#f00"/>
<rect x="484" y="727" width="1" height="9" fill="#f00"/>
<rect x="485" y="722" width="1" height="14" fill="#f00"/>
<rect x="486" y="731" width="1" height="9" fill="#f00"/>
<rect x="487" y="725" width="1" height="15" fill="#f00"/>
<rect x="488" y="725" width="1" height="16" fill="#f00"/>
<rect x="489" y="736" width="1" height="5" fill="#f00"/>
<rect x="490" y="736" width="1" height="5" fill="#f00"/>
<rect x="491" y="736" width="1" height="5" fill="#f00"/>
<rect x="492" y="738" width="1" height="3" fill="#f00"/>
<rect x="493" y="727" width="1" height="14" fill="#f00"/>
<rect x="494" y="736" width="1" height="3" fill="#f00"/>
<rect x="495" y="730" width="1" height="8" fill="#f00"/>
<rect x="496" y="728" width="1" height="9" fill="#f00"/>
<rect x="497" y="731" width="1" height="6" fill="#f00"/>
<rect x="498" y="725" width="1" height="10" fill="#f00"/>
<rect x="499" y="731" width="1" height="5" fill="#f00"/>
<rect x="500" y="717" width="1" height="18" fill="#f00"/>
<rect x="501" y="719" width="1" height="13" fill="#f00"/>
<rect x="502" y="729" width="1" height="5" fill="#f00"/>
<rect x="503" y="710" width="1" height="23" fill="#f00"/>
<rect x="504" y="715" width="1" height="23" fill="#f00"/>
<rect x="505" y="737" width="1" height="8" fill="#f00"/>
<rect x="506" y="739" width="1" height="5" fill="#f00"/>
<rect x="507" y="735" width="1" height="9" fill="#f00"/>
<rect x="508" y="736" width="1" height="7" fill="#f00"/>
<rect x="509" y="739" width="1" height="5" fill="#f00"/>
<rect x="510" y="743" width="1" height="2" fill="#f00"/>
<rect x="511" y="732" width="1" height="13" fill="#f00"/>
<rect x="512" y="735" width="1" height="10" fill="#f00"/>
<rect x="513" y="731" width="1" height="12" fill="#f00"/>
<rect x="514" y="685" width="1" height="52" fill="#f00"/>
<rect x="515" y="737" width="1" height="10" fill="#f00"/>
<rect x="516" y="743" width="1" height="5" fill="#f00"/>
<rect x="517" y="744" width="1" height="4" fill="#f00"/>
<rect x="518" y="736" width="1" height="11" fill="#f00"/>
<rect x="519" y="744" width="1" height="3" fill="#f00"/>
<rect x="520" y="744" width="1" height="3" fill="#f00"/>
<rect x="521" y="743" width="1" height="4" fill="#f00"/>
<rect x="522" y="741" width="1" height="5" fill="#f00"/>
<rect x="523" y="739" width="1" height="7" fill="#f00"/>
<rect x="524" y="743" width="1" height="4" fill="#f00"/>
<rect x="525" y="743" width="1" height="3" fill="#f00"/>
<rect x="526" y="741" width="1" height="4" fill="#f00"/>
<rect x="527" y="736" width="1" height="7" fill="#f00"/>
<rect x="528" y="734" width="1" height="8" fill="#f00"/>
<rect x="529" y="732" width="1" height="10" fill="#f00"/>
<rect x="530" y="740" width="1" height="3" fill="#f00"/>
<rect x="531" y="722" width="1" height="21" fill="#f00"/>
<rect x="532" y="694" width="1" height="49" fill="#f00"/>
<rect x="533" y="709" width="1" height="20" fill="#f00"/>
<rect x="534" y="727" width="1" height="10" fill="#f00"/>
<rect x="535" y="706" width="1" height="32" fill="#f00"/>
<rect x="536" y="729" width="1" height="9" fill="#f00"/>
<rect x="537" y="732" width="1" height="9" fill="#f00"/>
<rect x="538" y="730" width="1" height="12" fill="#f00"/>
<rect x="539" y="734" width="1" height="9" fill="#f00"/>
<rect x="540" y="690" width="1" height="49" fill="#f00"/>
<rect x="541" y="726" width="1" height="14" fill="#f00"/>
<rect x="542" y="723" width="1" height="15" fill="#f00"/>
<rect x="543" y="714" width="1" height="27" fill="#f00"/>
<rect x="544" y="717" width="1" height="24" fill="#f00"/>
<rect x="545" y="727" width="1" height="13" fill="#f00"/>
<rect x="546" y="729" width="1" height="11" fill="#f00"/>
<rect x="547" y="708" width="1" height="27" fill="#f00"/>
<rect x="548" y="716" width="1" height="15" fill="#f00"/>
<rect x="549" y="700" width="1" height="30" fill="#f00"/>
<rect x="550" y="697" width="1" height="32" fill="#f00"/>
<rect x="551" y="706" width="1" height="26" fill="#f00"/>
<rect x="552" y="713" width="1" height="21" fill="#f00"/>
<rect x="553" y="704" width="1" height="23" fill="#f00"/>
<rect x="554" y="706" width="1" height="23" fill="#f00"/>
<rect x="555" y="722" width="1" height="7" fill="#f00"/>
<rect x="194" y="758" width="1" height="3" fill="#00f"/>
<rect x="195" y="759" width="1" height="2" fill="#00f"/>
<rect x="212" y="759" width="1" height="2" fill="#00f"/>
<rect x="219" y="753" width="1" height="8" fill="#00f"/>
<rect x="220" y="751" width="1" height="10" fill="#00f"/>
<rect x="228" y="760" width="1" height="1" fill="#00f"/>
<rect x="241" y="754" width="1" height="7" fill="#00f"/>
<rect x="242" y="755" width="1" height="6" fill="#00f"/>
<rect x="243" y="754" width="1" height="7" fill="#00f"/>
<rect x="246" y="733" width="1" height="28" fill="#00f"/>
<rect x="249" y="710" width="1" height="51" fill="#00f"/>
<rect x="250" y="743" width="1" height="18" fill="#00f"/>
<rect x="251" y="743" width="1" height="18" fill="#00f"/>
<rect x="253" y="757" width="1" height="4" fill="#00f"/>
<rect x="256" y="736" width="1" height="25" fill="#00f"/>
<rect x="257" y="718" width="1" height="43" fill="#00f"/>
<rect x="260" y="755" width="1" height="6" fill="#00f"/>
<rect x="264" y="744" width="1" height="17" fill="#00f"/>
<rect x="271" y="722" width="1" height="39" fill="#00f"/>
<rect x="289" y="757" width="1" height="4" fill="#00f"/>
<rect x="290" y="756" width="1" height="5" fill="#00f"/>
<rect x="292" y="719" width="1" height="42" fill="#00f"/>
<rect x="297" y="761" width="1" height="0" fill="#00f"/>
<rect x="312" y="747" width="1" height="14" fill="#00f"/>
<rect x="313" y="746" width="1" height="15" fill="#00f"/>
<rect x="314" y="753" width="1" height="8" fill="#00f"/>
<rect x="317" y="756" width="1" height="5" fill="#00f"/>
<rect x="319" y="742" width="1" height="19" fill="#00f"/>
<rect x="321" y="734" width="1" height="27" fill="#00f"/>
<rect x="322" y="749" width="1" height="12" fill="#00f"/>
<rect x="323" y="740" width="1" height="21" fill="#00f"/>
<rect x="324" y="740" width="1" height="21" fill="#00f"/>
<rect x="325" y="749" width="1" height="12" fill="#00f"/>
<rect x="326" y="696" width="1" height="65" fill="#00f"/>
<rect x="327" y="746" width="1" height="15" fill="#00f"/>
<rect x="328" y="750" width="1" height="11" fill="#00f"/>
<rect x="329" y="672" width="1" height="89" fill="#00f"/>
<rect x="330" y="697" width="1" height="64" fill="#00f"/>
<rect x="333" y="728" width="1" height="33" fill="#00f"/>
<rect x="334" y="742" width="1" height="19" fill="#00f"/>
<rect x="336" y="696" width="1" height="65" fill="#00f"/>
<rect x="339" y="707" width="1" height="54" fill="#00f"/>
<rect x="340" y="715" width="1" height="46" fill="#00f"/>
<rect x="341" y="715" width="1" height="46" fill="#00f"/>
<rect x="342" y="725" width="1" height="36" fill="#00f"/>
<rect x="346" y="739" width="1" height="22" fill="#00f"/>
<rect x="347" y="753" width="1" height="8" fill="#00f"/>
<rect x="350" y="650" width="1" height="111" fill="#00f"/>
<rect x="351" y="697" width="1" height="64" fill="#00f"/>
<rect x="352" y="757" width="1" height="4" fill="#00f"/>
<rect x="358" y="710" width="1" height="51" fill="#00f"/>
<rect x="359" y="710" width="1" height="51" fill="#00f"/>
<rect x="360" y="756" width="1" height="5" fill="#00f"/>
<rect x="368" y="752" width="1" height="9" fill="#00f"/>
<rect x="369" y="686" width="1" height="75" fill="#00f"/>
<rect x="370" y="735" width="1" height="26" fill="#00f"/>
<rect x="371" y="726" width="1" height="35" fill="#00f"/>
<rect x="372" y="715" width="1" height="46" fill="#00f"/>
<rect x="375" y="752" width="1" height="9" fill="#00f"/>
<rect x="379" y="735" width="1" height="26" fill="#00f"/>
<rect x="380" y="733" width="1" height="28" fill="#00f"/>
<rect x="383" y="732" width="1" height="29" fill="#00f"/>
<rect x="384" y="700" width="1" height="61" fill="#00f"/>
<rect x="385" y="729" width="1" height="32" fill="#00f"/>
<rect x="386" y="729" width="1" height="32" fill="#00f"/>
<rect x="389" y="732" width="1" height="29" fill="#00f"/>
<rect x="392" y="677" width="1" height="84" fill="#00f"/>
<rect x="393" y="696" width="1" height="65" fill="#00f"/>
<rect x="394" y="708" width="1" height="53" fill="#00f"/>
<rect x="398" y="752" width="1" height="9" fill="#00f"/>
<rect x="405" y="740" width="1" height="21" fill="#00f"/>
<rect x="406" y="740" width="1" height="21" fill="#00f"/>
<rect x="407" y="723" width="1" height="38" fill="#00f"/>
<rect x="410" y="742" width="1" height="19" fill="#00f"/>
<rect x="412" y="721" width="1" height="40" fill="#00f"/>
<rect x="413" y="736" width="1" height="25" fill="#00f"/>
<rect x="414" y="731" width="1" height="30" fill="#00f"/>
<rect x="415" y="711" width="1" height="50" fill="#00f"/>
<rect x="417" y="752" width="1" height="9" fill="#00f"/>
<rect x="418" y="731" width="1" height="30" fill="#00f"/>
<rect x="419" y="731" width="1" height="30" fill="#00f"/>
<rect x="420" y="689" width="1" height="72" fill="#00f"/>
<rect x="421" y="689" width="1" height="72" fill="#00f"/>
<rect x="422" y="738" width="1" height="23" fill="#00f"/>
<rect x="423" y="754" width="1" height="7" fill="#00f"/>
<rect x="424" y="754" width="1" height="7" fill="#00f"/>
<rect x="426" y="690" width="1" height="71" fill="#00f"/>
<rect x="428" y="722" width="1" height="39" fill="#00f"/>
<rect x="433" y="744" width="1" height="17" fill="#00f"/>
<rect x="434" y="730" width="1" height="31" fill="#00f"/>
<rect x="437" y="711" width="1" height="50" fill="#00f"/>
<rect x="438" y="729" width="1" height="32" fill="#00f"/>
<rect x="439" y="729" width="1" height="32" fill="#00f"/>
<rect x="440" y="752" width="1" height="9" fill="#00f"/>
<rect x="443" y="736" width="1" height="25" fill="#00f"/>
<rect x="446" y="692" width="1" height="69" fill="#00f"/>
<rect x="447" y="707" width="1" height="54" fill="#00f"/>
<rect x="448" y="740" width="1" height="21" fill="#00f"/>
<rect x="451" y="722" width="1" height="39" fill="#00f"/>
<rect x="452" y="750" width="1" height="11" fill="#00f"/>
<rect x="454" y="730" width="1" height="31" fill="#00f"/>
<rect x="455" y="736" width="1" height="25" fill="#00f"/>
<rect x="456" y="740" width="1" height="21" fill="#00f"/>
<rect x="461" y="760" width="1" height="1" fill="#00f"/>
<rect x="465" y="736" width="1" height="25" fill="#00f"/>
<rect x="468" y="710" width="1" height="51" fill="#00f"/>
<rect x="469" y="740" width="1" height="21" fill="#00f"/>
<rect x="514" y="737" width="1" height="24" fill="#00f"/>
<rect x="532" y="743" width="1" height="18" fill="#00f"/>
<rect x="535" y="759" width="1" height="2" fill="#00f"/>
<rect x="540" y="739" width="1" height="22" fill="#00f"/>
<rect x="549" y="752" width="1" height="9" fill="#00f"/>
<rect x="550" y="755" width="1" height="6" fill="#00f"/>
<rect x="553" y="755" width="1" height="6" fill="#00f"/>
<rect x="555" y="532" width="1" height="230" fill="#000"/>
<rect x="545" y="761" width="11" height="1" fill="#000"/>
<rect x="550" y="745" width="6" height="1" fill="#000"/>
<rect x="550" y="736" width="6" height="1" fill="#000"/>
<rect x="550" y="730" width="6" height="1" fill="#000"/>
<rect x="550" y="725" width="6" height="1" fill="#000"/>
<rect x="550" y="721" width="6" height="1" fill="#000"/>
<rect x="550" y="718" width="6" height="1" fill="#000"/>
<rect x="550" y="715" width="6" height="1" fill="#000"/>
<rect x="550" y="712" width="6" height="1" fill="#000"/>
<rect x="545" y="710" width="11" height="1" fill="#000"/>
<rect x="550" y="694" width="6" height="1" fill="#000"/>
<rect x="550" y="685" width="6" height="1" fill="#000"/>
<rect x="550" y="679" width="6" height="1" fill="#000"/>
<rect x="550" y="674" width="6" height="1" fill="#000"/>
<rect x="550" y="670" width="6" height="1" fill="#000"/>
<rect x="550" y="667" width="6" height="1" fill="#000"/>
<rect x="550" y="664" width="6" height="1" fill="#000"/>
<rect x="550" y="661" width="6" height="1" fill="#000"/>
<rect x="545" y="659" width="11" height="1" fill="#000"/>
<rect x="550" y="643" width="6" height="1" fill="#000"/>
<rect x="550" y="634" width="6" height="1" fill="#000"/>
<rect x="550" y="628" width="6" height="1" fill="#000"/>
<rect x="550" y="623" width="6" height="1" fill="#000"/>
<rect x="550" y="619" width="6" height="1" fill="#000"/>
<rect x="550" y="616" width="6" height="1" fill="#000"/>
<rect x="550" y="613" width="6" height="1" fill="#000"/>
<rect x="550" y="610" width="6" height="1" fill="#000"/>
<rect x="545" y="608" width="11" height="1" fill="#000"/>
<rect x="550" y="592" width="6" height="1" fill="#000"/>
<rect x="550" y="583" width="6" height="1" fill="#000"/>
<rect x="550" y="577" width="6" height="1" fill="#000"/>
<rect x="550" y="572" width="6" height="1" fill="#000"/>
<rect x="550" y="568" width="6" height="1" fill="#000"/>
<rect x="550" y="565" width="6" height="1" fill="#000"/>
<rect x="550" y="562" width="6" height="1" fill="#000"/>
<rect x="550" y="559" width="6" height="1" fill="#000"/>
<rect x="545" y="557" width="11" height="1" fill="#000"/>
<rect x="550" y="541" width="6" height="1" fill="#000"/>
<rect x="550" y="532" width="6" height="1" fill="#000"/>
<rect x="369" y="132" width="109" height="1" fill="#00f"/>
<rect x="373" y="128" width="1" height="9" fill="#00f"/>
<rect x="406" y="128" width="1" height="9" fill="#00f"/>
<rect x="440" y="128" width="1" height="9" fill="#00f"/>
<rect x="473" y="128" width="1" height="9" fill="#00f"/>
<polyline points="373.5,218.5 406.5,213.5 440.5,223.5 473.5,223.5 507.5,227.5" fill="none" stroke="#000" stroke-width="1"/>
<rect x="369" y="218" width="9" height="1" fill="#000"/>
<rect x="373" y="214" width="1" height="9" fill="#000"/>
<rect x="402" y="213" width="9" height="1" fill="#000"/>
<rect x="406" y="209" width="1" height="9" fill="#000"/>
<rect x="436" y="223" width="9" height="1" fill="#000"/>
<rect x="440" y="219" width="1" height="9" fill="#000"/>
<rect x="469" y="223" width="9" height="1" fill="#000"/>
<rect x="473" y="219" width="1" height="9" fill="#000"/>
<path d="M507.5,227.5 L503.5,222.5 M507.5,227.5 L511.5,222.5 M507.5,227.5 L507.5,222.5" stroke="#000" stroke-width="1" fill="none"/>
</g>
<g>
<text x="28.30" y="45.00" font-size="11.11" fill="#000" textLength="20.20" lengthAdjust="spacingAndGlyphs">400</text>
<text x="27.50" y="90.00" font-size="11.11" fill="#000" textLength="21.00" lengthAdjust="spacingAndGlyphs">300</text>
<text x="27.50" y="137.00" font-size="11.11" fill="#000" textLength="21.00" lengthAdjust="spacingAndGlyphs">200</text>
<text x="28.50" y="185.00" font-size="11.11" fill="#000" textLength="20.00" lengthAdjust="spacingAndGlyphs">100</text>
<text transform="translate(41.50,228.00) scale(1.000,1)" font-size="11.11" fill="#000">0</text>
<text x="73.50" y="34.00" font-size="11.11" fill="#000" textLength="23.00" lengthAdjust="spacingAndGlyphs">&#8722;90</text>
<text x="146.50" y="34.00" font-size="11.11" fill="#000" textLength="23.00" lengthAdjust="spacingAndGlyphs">&#8722;60</text>
<text x="219.50" y="34.00" font-size="11.11" fill="#000" textLength="22.00" lengthAdjust="spacingAndGlyphs">&#8722;30</text>
<text transform="translate(300.50,34.00) scale(0.880,1)" font-size="11.11" fill="#000">0</text>
<text x="369.50" y="34.00" font-size="11.11" fill="#000" textLength="15.00" lengthAdjust="spacingAndGlyphs">30</text>
<text x="442.50" y="34.00" font-size="11.11" fill="#000" textLength="14.00" lengthAdjust="spacingAndGlyphs">60</text>
<text x="515.50" y="34.00" font-size="11.11" fill="#000" textLength="15.00" lengthAdjust="spacingAndGlyphs">90</text>
<text x="265.50" y="23.80" font-size="11.30" fill="#000" textLength="76.00" lengthAdjust="spacingAndGlyphs">NAR Longitude</text>
<text x="464.70" y="21.80" font-size="14.67" fill="#000" textLength="91.80" lengthAdjust="spacingAndGlyphs">Lat: &#8722;24.00</text>
<text x="101.70" y="58.00" font-size="19.44" fill="#000" textLength="111.80" lengthAdjust="spacingAndGlyphs">NAR 13083</text>
<text x="202.50" y="256.00" font-size="12.80" fill="#000" textLength="200.00" lengthAdjust="spacingAndGlyphs">Start Time: (2022/08/07 09:44)</text>
<text x="202.50" y="523.00" font-size="12.80" fill="#000" textLength="200.00" lengthAdjust="spacingAndGlyphs">Start Time: (2022/08/07 09:44)</text>
<text x="480.50" y="790.80" font-size="11.30" fill="#000" textLength="103.00" lengthAdjust="spacingAndGlyphs">Prepared by HELIO</text>
<text x="560.50" y="287.00" font-size="11.11" fill="#f00" textLength="27.00" lengthAdjust="spacingAndGlyphs">CMEs</text>
<text x="559.30" y="66.60" font-size="11.59" fill="#00f" textLength="17.40" lengthAdjust="spacingAndGlyphs" font-style="italic">&#946;&#947;&#948;</text>
<text x="559.30" y="90.40" font-size="10.97" fill="#00f" textLength="11.40" lengthAdjust="spacingAndGlyphs" font-style="italic">&#946;&#948;</text>
<text x="559.30" y="113.60" font-size="11.59" fill="#00f" textLength="11.40" lengthAdjust="spacingAndGlyphs" font-style="italic">&#946;&#947;</text>
<text transform="translate(559.30,137.60) scale(0.806,1)" font-size="11.59" fill="#00f" font-style="italic">&#946;</text>
<text transform="translate(558.50,162.00) scale(0.898,1)" font-size="12.30" fill="#00f" font-style="italic">&#945;</text>
<text transform="translate(19.85,157.80) rotate(-90)" font-size="12.22" fill="#000" textLength="48.00" lengthAdjust="spacingAndGlyphs">NAR Area</text>
<text transform="translate(18.70,428.80) rotate(-90)" font-size="11.00" fill="#000" textLength="96.00" lengthAdjust="spacingAndGlyphs">Flare X-ray Class</text>
<text transform="translate(18.70,696.80) rotate(-90)" font-size="11.00" fill="#000" textLength="99.00" lengthAdjust="spacingAndGlyphs">GOES X-ray Class</text>
<text transform="translate(575.85,449.80) rotate(-90)" font-size="12.22" fill="#000" textLength="139.80" lengthAdjust="spacingAndGlyphs">Flares observed in AR</text>
<text transform="translate(589.15,139.80) rotate(-90)" font-size="12.48" fill="#00f" textLength="57.00" lengthAdjust="spacingAndGlyphs">Mag. Class</text>
<text x="121.50" y="243.00" font-size="11.10" fill="#000" textLength="34.00" lengthAdjust="spacingAndGlyphs">08/10</text>
<text x="121.50" y="509.00" font-size="11.10" fill="#000" textLength="34.00" lengthAdjust="spacingAndGlyphs">08/10</text>
<text x="121.50" y="776.00" font-size="11.10" fill="#000" textLength="34.00" lengthAdjust="spacingAndGlyphs">08/10</text>
<text x="222.50" y="243.00" font-size="11.10" fill="#000" textLength="34.00" lengthAdjust="spacingAndGlyphs">08/13</text>
<text x="222.50" y="509.00" font-size="11.10" fill="#000" textLength="34.00" lengthAdjust="spacingAndGlyphs">08/13</text>
<text x="222.50" y="776.00" font-size="11.10" fill="#000" textLength="34.00" lengthAdjust="spacingAndGlyphs">08/13</text>
<text x="322.50" y="243.00" font-size="11.10" fill="#000" textLength="34.00" lengthAdjust="spacingAndGlyphs">08/16</text>
<text x="322.50" y="509.00" font-size="11.10" fill="#000" textLength="34.00" lengthAdjust="spacingAndGlyphs">08/16</text>
<text x="322.50" y="776.00" font-size="11.10" fill="#000" textLength="34.00" lengthAdjust="spacingAndGlyphs">08/16</text>
<text x="423.50" y="243.00" font-size="11.10" fill="#000" textLength="34.00" lengthAdjust="spacingAndGlyphs">08/19</text>
<text x="423.50" y="509.00" font-size="11.10" fill="#000" textLength="34.00" lengthAdjust="spacingAndGlyphs">08/19</text>
<text x="423.50" y="776.00" font-size="11.10" fill="#000" textLength="34.00" lengthAdjust="spacingAndGlyphs">08/19</text>
<text x="523.50" y="243.00" font-size="11.10" fill="#000" textLength="34.00" lengthAdjust="spacingAndGlyphs">08/22</text>
<text x="523.50" y="509.00" font-size="11.10" fill="#000" textLength="34.00" lengthAdjust="spacingAndGlyphs">08/22</text>
<text x="523.50" y="776.00" font-size="11.10" fill="#000" textLength="34.00" lengthAdjust="spacingAndGlyphs">08/22</text>
<text transform="translate(41.50,495.00) scale(0.898,1)" font-size="11.11" fill="#000">B</text>
<text transform="translate(41.50,448.00) scale(0.898,1)" font-size="11.11" fill="#000">C</text>
<text transform="translate(41.50,397.00) scale(0.734,1)" font-size="11.11" fill="#000">M</text>
<text transform="translate(41.50,346.00) scale(0.898,1)" font-size="11.11" fill="#000">X</text>
<text x="27.50" y="295.00" font-size="11.11" fill="#000" textLength="21.00" lengthAdjust="spacingAndGlyphs">X10</text>
<text transform="translate(41.50,762.00) scale(0.898,1)" font-size="11.11" fill="#000">B</text>
<text transform="translate(41.50,715.00) scale(0.898,1)" font-size="11.11" fill="#000">C</text>
<text transform="translate(41.50,664.00) scale(0.734,1)" font-size="11.11" fill="#000">M</text>
<text transform="translate(41.50,613.00) scale(0.898,1)" font-size="11.11" fill="#000">X</text>
<text x="27.50" y="562.00" font-size="11.11" fill="#000" textLength="21.00" lengthAdjust="spacingAndGlyphs">X10</text>
</g>
</svg>
</body></html>
